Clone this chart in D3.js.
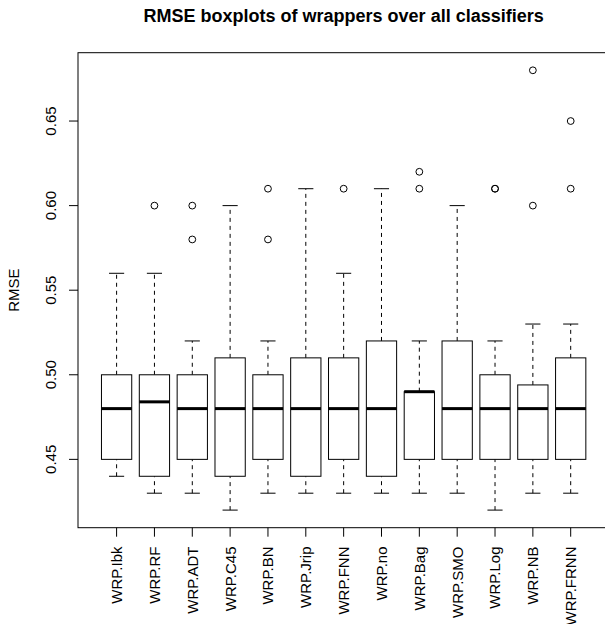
<!DOCTYPE html>
<html>
<head>
<meta charset="utf-8">
<script src="https://cdn.jsdelivr.net/npm/d3@7"></script>
<style>
  body { margin: 0; background: #fff; }
  svg { display: block; }
  text { font-family: "Liberation Sans", Arial, Helvetica, sans-serif; fill: #000; }
</style>
</head>
<body>
<svg id="chart" width="605" height="624"></svg>
<script>
// Boxplot stats
const wrappers = ["WRP.Ibk", "WRP.RF", "WRP.ADT", "WRP.C45", "WRP.BN", "WRP.Jrip", "WRP.FNN",
    "WRP.no", "WRP.Bag", "WRP.SMO", "WRP.Log", "WRP.NB", "WRP.FRNN"];
const whiskerLow  = [0.44, 0.43, 0.43, 0.42, 0.43, 0.43, 0.43, 0.43, 0.43, 0.43, 0.42, 0.43, 0.43];
const q1          = [0.45, 0.44, 0.45, 0.44, 0.45, 0.44, 0.45, 0.44, 0.45, 0.45, 0.45, 0.45, 0.45];
const medians     = [0.48, 0.484, 0.48, 0.48, 0.48, 0.48, 0.48, 0.48, 0.49, 0.48, 0.48, 0.48, 0.48];
const q3          = [0.50, 0.50, 0.50, 0.51, 0.50, 0.51, 0.51, 0.52, 0.49, 0.52, 0.50, 0.494, 0.51];
const whiskerHigh = [0.56, 0.56, 0.52, 0.60, 0.52, 0.61, 0.56, 0.61, 0.52, 0.60, 0.52, 0.53, 0.53];
const outliers = [
    [], [0.60], [0.60, 0.58], [], [0.61, 0.58], [], [0.61],
    [], [0.62, 0.61], [], [0.61, 0.61], [0.68, 0.60], [0.65, 0.61]
];
const yTicks = [0.45, 0.50, 0.55, 0.60, 0.65];

const svg = d3.select("#chart");
const plot = { left: 78, top: 52.7, bottom: 527.7, right: 609.3 };

const boxes = wrappers.map((name, i) => ({
    name, pos: i + 1,
    lo: whiskerLow[i], q1: q1[i], med: medians[i], q3: q3[i], hi: whiskerHigh[i],
    out: outliers[i]
}));

// R style 4% range extension
const allVals = boxes.flatMap(b => [b.lo, b.hi, ...b.out]);
const yMin = d3.min(allVals), yMax = d3.max(allVals);
const yPad = (yMax - yMin) * 0.04;
const y = d3.scaleLinear().domain([yMin - yPad, yMax + yPad]).range([plot.bottom, plot.top]);
const xPad = wrappers.length * 0.04;
const x = d3.scaleLinear().domain([0.5 - xPad, wrappers.length + 0.5 + xPad]).range([plot.left, plot.right]);

const boxW = (x(2) - x(1)) * 0.8;
const stapleW = boxW / 2;

const g = svg.append("g");

// whiskers
g.selectAll(".whisker")
    .data(boxes.flatMap(b => [{ pos: b.pos, a: b.lo, b: b.q1 }, { pos: b.pos, a: b.q3, b: b.hi }]))
    .join("line")
    .attr("x1", d => x(d.pos)).attr("x2", d => x(d.pos))
    .attr("y1", d => y(d.a)).attr("y2", d => y(d.b))
    .attr("stroke", "#000").attr("stroke-width", 1)
    .attr("stroke-dasharray", "4,4");

// staples
g.selectAll(".staple")
    .data(boxes.flatMap(b => [{ pos: b.pos, v: b.lo }, { pos: b.pos, v: b.hi }]))
    .join("line")
    .attr("x1", d => x(d.pos) - stapleW / 2).attr("x2", d => x(d.pos) + stapleW / 2)
    .attr("y1", d => y(d.v)).attr("y2", d => y(d.v))
    .attr("stroke", "#000").attr("stroke-width", 1);

// boxes
g.selectAll(".box")
    .data(boxes)
    .join("rect")
    .attr("x", d => x(d.pos) - boxW / 2)
    .attr("width", boxW)
    .attr("y", d => y(d.q3))
    .attr("height", d => y(d.q1) - y(d.q3))
    .attr("fill", "#fff")
    .attr("stroke", "#000").attr("stroke-width", 1);

// medians
g.selectAll(".median")
    .data(boxes)
    .join("line")
    .attr("x1", d => x(d.pos) - boxW / 2).attr("x2", d => x(d.pos) + boxW / 2)
    .attr("y1", d => y(d.med)).attr("y2", d => y(d.med))
    .attr("stroke", "#000").attr("stroke-width", 3);

// outliers
g.selectAll(".outlier")
    .data(boxes.flatMap(b => b.out.map(v => ({ pos: b.pos, v }))))
    .join("circle")
    .attr("cx", d => x(d.pos)).attr("cy", d => y(d.v))
    .attr("r", 3.4)
    .attr("fill", "none")
    .attr("stroke", "#000").attr("stroke-width", 1);

// frame
svg.append("rect")
    .attr("x", plot.left).attr("y", plot.top)
    .attr("width", plot.right - plot.left).attr("height", plot.bottom - plot.top)
    .attr("fill", "none").attr("stroke", "#000").attr("stroke-width", 1);

// y axis
const yAxis = svg.append("g");
yAxis.selectAll("line")
    .data(yTicks)
    .join("line")
    .attr("x1", plot.left - 9).attr("x2", plot.left)
    .attr("y1", d => y(d)).attr("y2", d => y(d))
    .attr("stroke", "#000");
yAxis.selectAll("text")
    .data(yTicks)
    .join("text")
    .attr("transform", d => `translate(55.5,${y(d)}) rotate(-90)`)
    .attr("text-anchor", "middle")
    .style("font-size", "15px")
    .text(d3.format(".2f"));

// x axis
const xAxis = svg.append("g");
xAxis.selectAll("line")
    .data(boxes)
    .join("line")
    .attr("x1", d => x(d.pos)).attr("x2", d => x(d.pos))
    .attr("y1", plot.bottom).attr("y2", plot.bottom + 9)
    .attr("stroke", "#000");
xAxis.selectAll("text")
    .data(boxes)
    .join("text")
    .attr("transform", d => `translate(${x(d.pos) + 5.4},546.5) rotate(-90)`)
    .attr("text-anchor", "end")
    .style("font-size", "15px")
    .text(d => d.name);

// labels
svg.append("text")
    .attr("transform", `translate(18.5,${(plot.top + plot.bottom) / 2}) rotate(-90)`)
    .attr("text-anchor", "middle")
    .style("font-size", "15px")
    .text("RMSE");

svg.append("text")
    .attr("x", (plot.left + plot.right) / 2)
    .attr("y", 21.5)
    .attr("text-anchor", "middle")
    .style("font-size", "18px")
    .style("font-weight", "bold")
    .text("RMSE boxplots of wrappers over all classifiers");
</script>
</body>
</html>
